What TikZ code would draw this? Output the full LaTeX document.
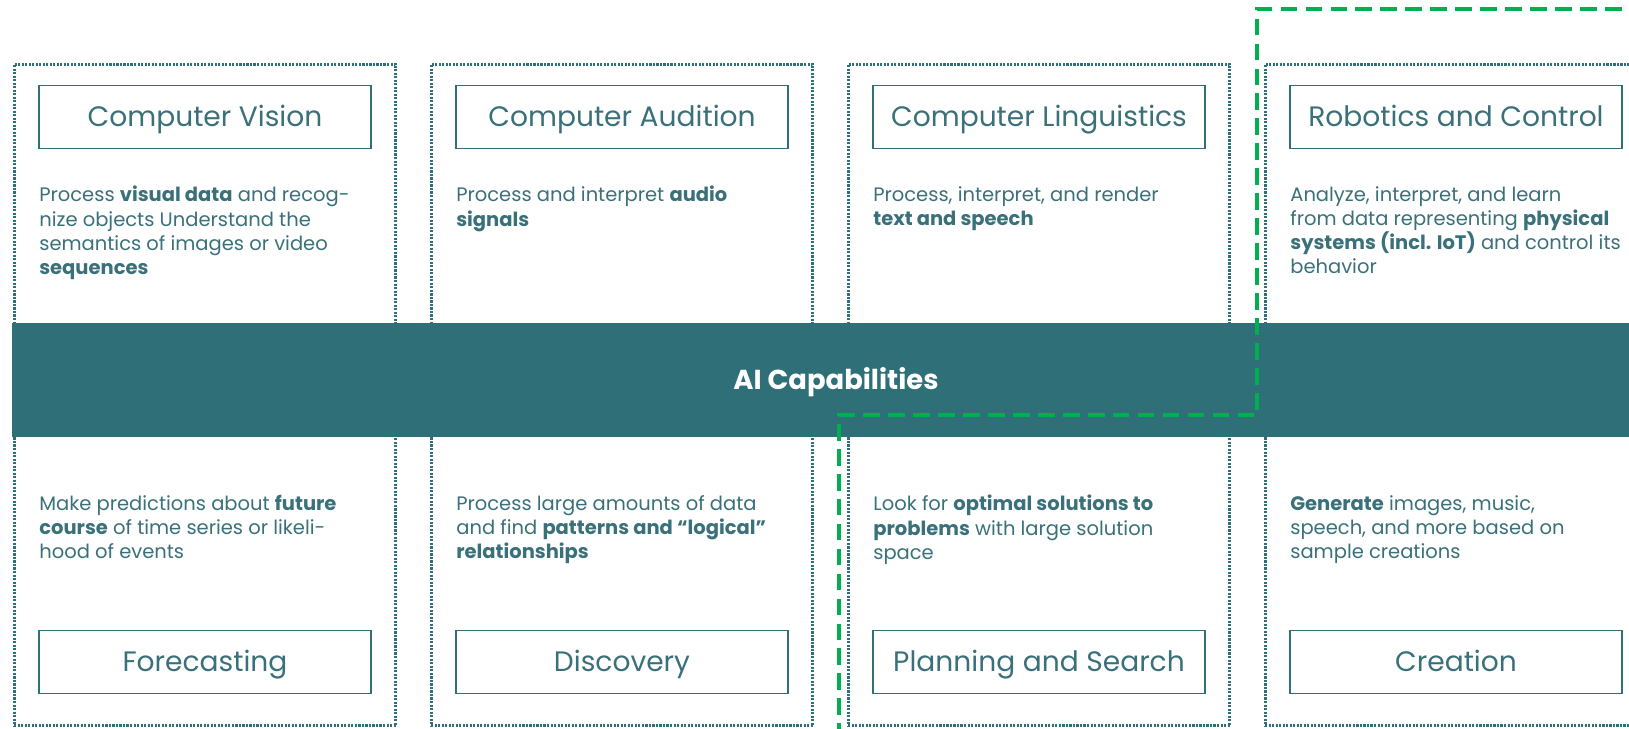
\documentclass[tikz,border=0pt]{standalone}
\usepackage{fontspec}
\setmainfont{Poppins}
\usepackage{tikz}
\definecolor{capteal}{HTML}{2F6F78}
\definecolor{captextcol}{HTML}{3A7079}
\definecolor{markgreen}{HTML}{00B050}
\tikzset{
  colframe/.style={draw=capteal, line width=1.7pt, dash pattern=on 1.2pt off 0.8pt,
    minimum width=7.64cm, minimum height=13.24cm, inner sep=0pt},
  capbox/.style={draw=capteal, line width=1.1pt, minimum width=6.64cm,
    minimum height=1.26cm, inner sep=0pt, text=captextcol,
    text height=11.2pt, text depth=0pt,
    font=\fontsize{16}{19}\selectfont},
  capdesc/.style={anchor=north west, inner sep=0pt, align=left, text=captextcol,
    font=\fontsize{11.1}{13.7}\selectfont},
  banner/.style={fill=capteal, minimum width=32.96cm, minimum height=2.28cm,
    inner sep=0pt, text=white, text height=10.9pt, text depth=0pt,
    font=\fontsize{15.6}{19}\selectfont\bfseries},
  markline/.style={draw=markgreen, line width=2.8pt, dash pattern=on 9.5pt off 4.7pt}
}
\begin{document}
\begin{tikzpicture}[x=0.02cm, y=-0.02cm]
\useasboundingbox (0,0) rectangle (1629,728);
\clip (0,0) rectangle (1629,728);

\node[colframe] (visionframe) at (205,395) {};
\node[colframe] (auditionframe) at (622,395) {};
\node[colframe] (linguframe) at (1039,395) {};
\node[colframe] (roboframe) at (1456,395) {};

\node[banner] (capbanner) at (836,380) {AI Capabilities};

\node[capbox] (vision) at (205,117) {Computer Vision};
\node[capbox] (audition) at (622,117) {Computer Audition};
\node[capbox] (lingu) at (1039,117) {Computer Linguistics};
\node[capbox] (robo) at (1456,117) {Robotics and Control};

\node[capbox] (forecast) at (205,662) {Forecasting};
\node[capbox] (discovery) at (622,662) {Discovery};
\node[capbox] (planning) at (1039,662) {Planning and Search};
\node[capbox] (creation) at (1456,662) {Creation};

\node[capdesc] (visiontext) at (39,186) {Process \textbf{visual data} and recog-\\
  nize objects Understand the\\semantics of images or video\\\textbf{sequences}};
\node[capdesc] (auditiontext) at (456,186) {Process and interpret \textbf{audio}\\
  \textbf{signals}};
\node[capdesc] (lingutext) at (873,186) {Process, interpret, and render\\
  \textbf{text and speech}};
\node[capdesc] (robotext) at (1290,186) {Analyze, interpret, and learn\\
  from data representing \textbf{physical}\\\textbf{systems (incl. IoT)} and control its\\behavior};

\node[capdesc] (forecasttext) at (39,495) {Make predictions about \textbf{future}\\
  \textbf{course} of time series or likeli-\\hood of events};
\node[capdesc] (discoverytext) at (456,495) {Process large amounts of data\\
  and find \textbf{patterns and “logical”}\\\textbf{relationships}};
\node[capdesc] (planningtext) at (873,495) {Look for \textbf{optimal solutions to}\\
  \textbf{problems} with large solution\\space};
\node[capdesc] (creationtext) at (1290,495) {\textbf{Generate} images, music,\\
  speech, and more based on\\sample creations};

\draw[markline] (839,740) -- (839,415) -- (1257,415) -- (1257,9) -- (1650,9);
\end{tikzpicture}
\end{document}
